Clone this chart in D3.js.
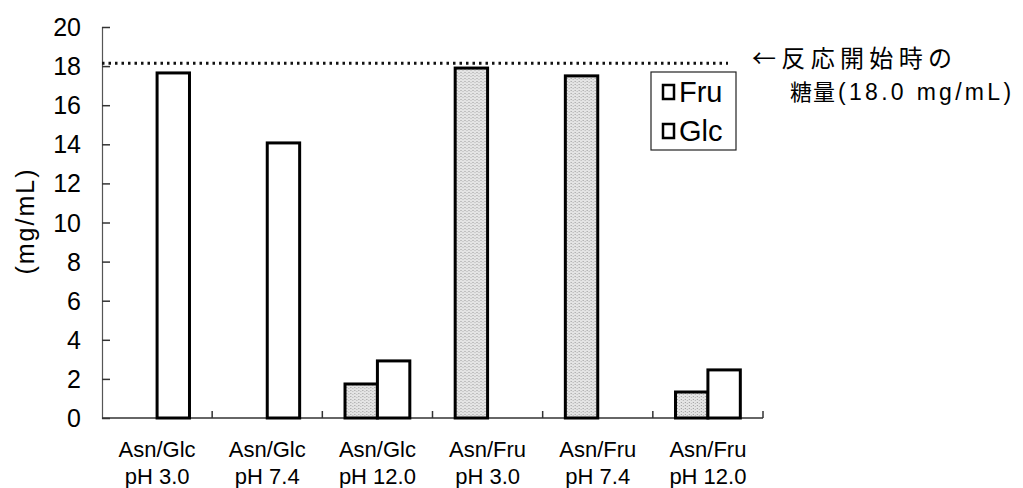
<!DOCTYPE html>
<html>
<head>
<meta charset="utf-8">
<script src="https://cdn.jsdelivr.net/npm/d3@7"></script>
<style>
  body { margin: 0; background: #fff; }
  svg { display: block; font-family: "Liberation Sans", Arial, sans-serif; }
</style>
</head>
<body>
<svg id="chart" width="1023" height="488"></svg>
<script>
// data
const categories = ["Asn/Glc|pH 3.0", "Asn/Glc|pH 7.4", "Asn/Glc|pH 12.0",
                    "Asn/Fru|pH 3.0", "Asn/Fru|pH 7.4", "Asn/Fru|pH 12.0"];
const series = ["Fru", "Glc"];
const fruValues = [0, 0, 1.74, 17.9, 17.5, 1.33];
const glcValues = [17.65, 14.07, 2.92, 0, 0, 2.46];
const yTicks = [0, 2, 4, 6, 8, 10, 12, 14, 16, 18, 20];
const startSugar = 18.15;

const svg = d3.select("#chart");
const m = {left: 102, right: 260, top: 27, bottom: 70};
const W = 1023, H = 488;

const x = d3.scaleBand().domain(categories).range([m.left, W - m.right]).padding(0);
const xs = d3.scaleBand().domain(series).range([0, x.bandwidth()]).paddingInner(0).paddingOuter(0.7);
const y = d3.scaleLinear().domain([0, 20]).range([H - m.bottom, m.top]);

// stipple for the Fru bars
const defs = svg.append("defs");
const pat = defs.append("pattern").attr("id", "stip")
  .attr("patternUnits", "userSpaceOnUse").attr("width", 4).attr("height", 3);
pat.append("rect").attr("width", 4).attr("height", 3).attr("fill", "#e4e4e4");
pat.append("rect").attr("x", 0).attr("y", 0).attr("width", 1).attr("height", 1).attr("fill", "#9a9a9a");
pat.append("rect").attr("x", 2).attr("y", 1).attr("width", 1).attr("height", 1).attr("fill", "#b5b5b5");

// y axis
const yAxis = svg.append("g").attr("transform", `translate(${m.left},0)`)
  .call(d3.axisRight(y).tickValues(yTicks).tickSize(8).tickFormat(""));
yAxis.select(".domain").attr("stroke", "#555").attr("stroke-width", 1.2);
yAxis.selectAll(".tick line").attr("stroke", "#333").attr("stroke-width", 1.5);

svg.append("g").selectAll("text").data(yTicks).enter().append("text")
  .attr("x", 81).attr("y", d => y(d)).attr("dy", "0.36em")
  .attr("text-anchor", "end").attr("font-size", 25).text(d => d);

svg.append("text")
  .attr("transform", `translate(25,221) rotate(-90)`)
  .attr("text-anchor", "middle").attr("dy", "0.35em")
  .attr("font-size", 25).attr("letter-spacing", 2).text("(mg/mL)");

// x axis
const xAxis = svg.append("g").attr("transform", `translate(0,${y(0)})`);
xAxis.append("line").attr("x1", m.left).attr("x2", W - m.right)
  .attr("stroke", "#333").attr("stroke-width", 1.5);
xAxis.selectAll(".tk").data(categories).enter().append("line")
  .attr("x1", d => x(d) + x.bandwidth()).attr("x2", d => x(d) + x.bandwidth())
  .attr("y1", 0).attr("y2", -7).attr("stroke", "#333").attr("stroke-width", 1.5);

const lbl = svg.append("g").selectAll("text").data(categories).enter().append("text")
  .attr("text-anchor", "middle").attr("font-size", 22)
  .attr("x", d => x(d) + x.bandwidth() / 2).attr("y", 457);
lbl.append("tspan").attr("x", d => x(d) + x.bandwidth() / 2).text(d => d.split("|")[0]);
lbl.append("tspan").attr("x", d => x(d) + x.bandwidth() / 2).attr("dy", 27).text(d => d.split("|")[1]);

// bars
const rows = categories.map((c, i) => ({c, vals: [
  {s: "Fru", v: fruValues[i]}, {s: "Glc", v: glcValues[i]}]}));
const grp = svg.append("g").selectAll("g").data(rows).enter().append("g")
  .attr("transform", d => `translate(${x(d.c)},0)`);
grp.selectAll("rect").data(d => d.vals.filter(e => e.v > 0)).enter().append("rect")
  .attr("x", d => xs(d.s)).attr("width", xs.bandwidth())
  .attr("y", d => y(d.v)).attr("height", d => y(0) - y(d.v))
  .attr("fill", d => d.s === "Fru" ? "url(#stip)" : "#fff")
  .attr("stroke", "#000").attr("stroke-width", 3);

// reference line for starting sugar
svg.append("line")
  .attr("x1", m.left).attr("x2", 728)
  .attr("y1", y(startSugar)).attr("y2", y(startSugar))
  .attr("stroke", "#111").attr("stroke-width", 3).attr("stroke-dasharray", "2.5,4");

const note = svg.append("g").attr("font-family", "'Noto Sans CJK JP', sans-serif");
note.append("text").attr("x", 752).attr("y", 67).attr("font-size", 24)
  .attr("textLength", 200).attr("lengthAdjust", "spacing").text("←反応開始時の");
const n2 = note.append("text").attr("x", 790).attr("y", 99.5).attr("font-size", 22);
n2.append("tspan").attr("letter-spacing", 1).text("糖量");
n2.append("tspan").attr("dx", 2).attr("font-family", "'Liberation Sans', Arial, sans-serif")
  .attr("font-size", 23).attr("letter-spacing", 3.3).text("(18.0 mg/mL)");

// legend
const leg = svg.append("g").attr("transform", "translate(651,72)");
leg.append("rect").attr("width", 85).attr("height", 78)
  .attr("fill", "#fff").attr("stroke", "#222").attr("stroke-width", 1.2);
const li = leg.selectAll("g").data(series).enter().append("g")
  .attr("transform", (d, i) => `translate(12,${20 + i * 39})`);
li.append("rect").attr("x", 0).attr("y", -7).attr("width", 11).attr("height", 14)
  .attr("fill", "#fff").attr("stroke", "#000").attr("stroke-width", 2.5);
li.append("text").attr("x", 16).attr("y", 10).attr("font-size", 29).text(d => d);
</script>
</body>
</html>
